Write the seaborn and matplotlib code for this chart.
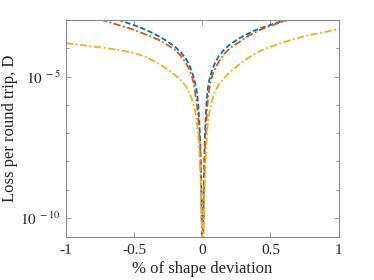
import matplotlib
matplotlib.use("Agg")
import matplotlib.pyplot as plt
import pandas as pd
import seaborn as sns

# values (x in %, loss per round trip)
x_blue = [-0.62, -0.55, -0.48, -0.42, -0.36, -0.31, -0.26, -0.2, -0.16, -0.12,
          -0.09, -0.065, -0.05, -0.04, -0.03, -0.022, -0.015, -0.009, -0.004, 0.002,
          0.008, 0.012, 0.017, 0.023, 0.03, 0.038, 0.05, 0.07, 0.09, 0.12,
          0.16, 0.2, 0.26, 0.32, 0.38, 0.45, 0.52, 0.58, 0.64]
y_blue = [1.05e-3, 7.9e-4, 6.0e-4, 4.6e-4, 3.4e-4, 2.5e-4, 1.8e-4, 1.12e-4, 7.4e-5, 4.2e-5,
          2.2e-5, 1.0e-5, 5.0e-6, 2.8e-6, 1.0e-6, 2.5e-7, 4.0e-8, 3.2e-9, 1.0e-10, 3.2e-12,
          1.0e-10, 3.2e-9, 4.0e-8, 2.5e-7, 1.0e-6, 3.2e-6, 7.1e-6, 1.6e-5, 2.8e-5, 5.2e-5,
          8.9e-5, 1.32e-4, 2.1e-4, 3.0e-4, 4.2e-4, 5.6e-4, 7.2e-4, 8.9e-4, 1.07e-3]

x_red = [-0.75, -0.68, -0.6, -0.53, -0.45, -0.38, -0.31, -0.25, -0.2, -0.16,
         -0.13, -0.1, -0.075, -0.06, -0.045, -0.035, -0.025, -0.017, -0.01, -0.005, 0.002,
         0.009, 0.014, 0.02, 0.027, 0.035, 0.045, 0.06, 0.08, 0.1, 0.13,
         0.17, 0.21, 0.27, 0.34, 0.42, 0.5, 0.57, 0.65]
y_red = [1.05e-3, 8.3e-4, 6.3e-4, 5.0e-4, 3.6e-4, 2.6e-4, 1.9e-4, 1.26e-4, 8.7e-5, 5.6e-5,
         3.5e-5, 2.0e-5, 1.0e-5, 4.5e-6, 1.6e-6, 6.3e-7, 1.6e-7, 3.2e-8, 2.5e-9, 1.0e-10, 3.2e-12,
         1.0e-10, 2.5e-9, 3.2e-8, 1.6e-7, 7.9e-7, 2.5e-6, 6.3e-6, 1.4e-5, 2.2e-5, 4.0e-5,
         7.1e-5, 1.07e-4, 1.66e-4, 2.8e-4, 4.4e-4, 6.3e-4, 8.1e-4, 1.07e-3]

x_yellow = [-1.0, -0.9, -0.8, -0.7, -0.6, -0.5, -0.42, -0.36, -0.3, -0.25,
            -0.2, -0.16, -0.12, -0.09, -0.07, -0.05, -0.035, -0.022, -0.012, -0.005, 0.003,
            0.011, 0.018, 0.027, 0.038, 0.052, 0.07, 0.09, 0.12, 0.16, 0.2,
            0.25, 0.3, 0.36, 0.43, 0.5, 0.57, 0.67, 0.78, 0.89, 1.0]
y_yellow = [1.51e-4, 1.32e-4, 1.15e-4, 1.0e-4, 8.5e-5, 6.8e-5, 5.0e-5, 3.6e-5, 2.5e-5, 1.74e-5,
            1.12e-5, 7.6e-6, 4.5e-6, 2.4e-6, 1.26e-6, 5.0e-7, 1.6e-7, 2.5e-8, 2.0e-9, 1.0e-10, 3.2e-12,
            1.0e-10, 2.0e-9, 2.5e-8, 1.6e-7, 5.6e-7, 1.4e-6, 2.8e-6, 5.2e-6, 8.9e-6, 1.4e-5,
            2.2e-5, 3.5e-5, 5.4e-5, 8.3e-5, 1.12e-4, 1.48e-4, 2.1e-4, 2.9e-4, 3.7e-4, 4.7e-4]

series = [
    (x_blue, y_blue, "#0072BD", (0, (3.0, 1.4))),
    (x_red, y_red, "#D95319", (0, (4.0, 1.4, 1.0, 1.4))),
    (x_yellow, y_yellow, "#EDB120", (0, (4.0, 1.4, 1.0, 1.4))),
]

sns.set_theme(style="ticks")
plt.rcParams.update({
    "font.family": ["Liberation Serif", "DejaVu Serif"],
    "mathtext.fontset": "stix",
    "axes.edgecolor": "#8a8a8a",
    "axes.linewidth": 0.8,
    "xtick.color": "#8a8a8a",
    "ytick.color": "#8a8a8a",
    "xtick.labelcolor": "#262626",
    "ytick.labelcolor": "#262626",
})

fig = plt.figure(figsize=(3.74, 2.80), dpi=100)
ax = fig.add_axes([0.1765, 0.1536, 0.729, 0.775])

for xs, ys, color, dash in series:
    df = pd.DataFrame({"x": xs, "y": ys})
    sns.lineplot(data=df, x="x", y="y", ax=ax, color=color, linewidth=1.3,
                 linestyle=dash, estimator=None, sort=True)

ax.set_yscale("log")
ax.set_xlim(-1, 1)
ax.set_ylim(10 ** -10.68, 1e-3)

ax.set_xticks([-1, -0.5, 0, 0.5, 1])
ax.set_xticklabels(["-1", "-0.5", "0", "0.5", "1"])
ax.set_yticks([1e-10, 1e-5])
ax.set_yticklabels([r"$10^{\ -10}$", r"$10^{\ -5}$"])
ax.yaxis.set_minor_locator(matplotlib.ticker.FixedLocator([10.0 ** k for k in range(-11, -2)]))
ax.yaxis.set_minor_formatter(matplotlib.ticker.NullFormatter())

ax.tick_params(which="both", direction="in", top=True, right=True, labelsize=11)
ax.tick_params(which="major", length=3.5, width=0.6)
ax.tick_params(which="minor", length=2, width=0.6)
ax.tick_params(axis="x", pad=5)

ax.set_xlabel("% of shape deviation", fontsize=12, color="#262626", labelpad=3)
ax.set_ylabel("Loss per round trip, D", fontsize=12, color="#262626", labelpad=2)

fig.savefig("out.png", dpi=100)
